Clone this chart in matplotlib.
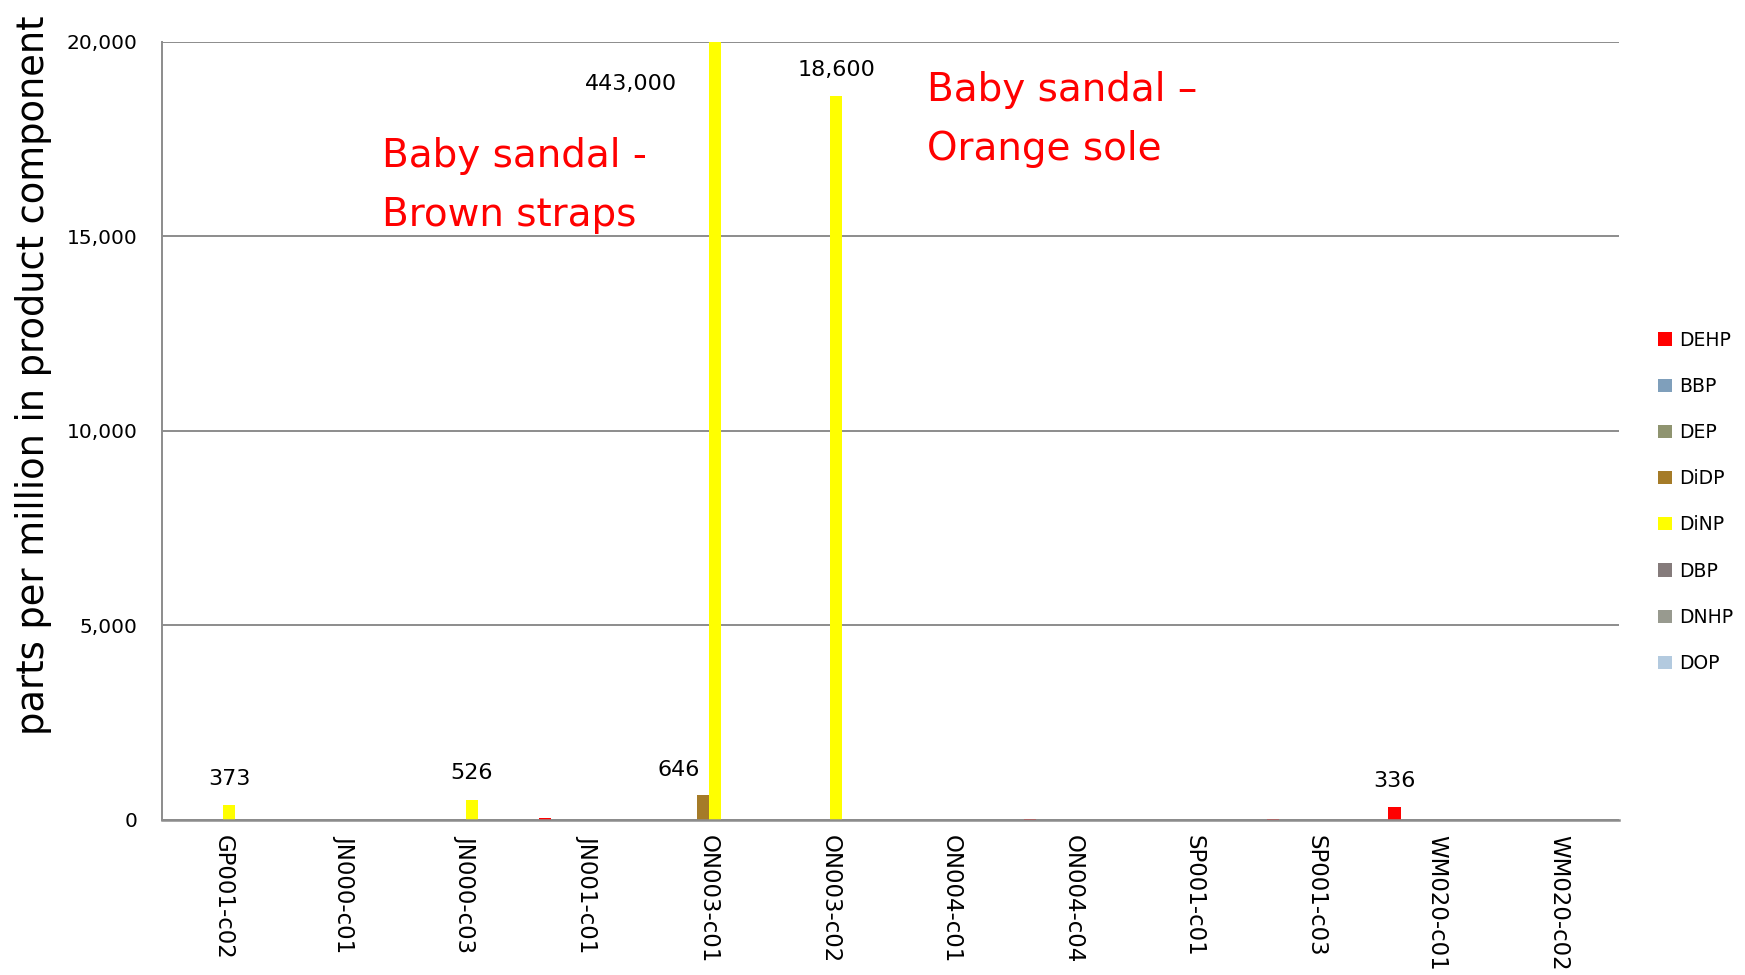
import matplotlib
matplotlib.use("Agg")
import matplotlib.pyplot as plt
import numpy as np

# Muestras (componentes de producto)
muestras = ['GP001-c02', 'JN000-c01', 'JN000-c03', 'JN001-c01', 'ON003-c01', 'ON003-c02',
            'ON004-c01', 'ON004-c04', 'SP001-c01', 'SP001-c03', 'WM020-c01', 'WM020-c02']

ftalatos = ['DEHP', 'BBP', 'DEP', 'DiDP', 'DiNP', 'DBP', 'DNHP', 'DOP']
colores = ['#ff0000', '#7f9fbb', '#8f9470', '#a57b28', '#ffff00', '#857b7b', '#989a8f', '#b3cadf']

# ppm por ftalato, una lista por serie
DEHP = [0, 0, 0, 60, 0, 0, 0, 30, 0, 30, 336, 10]
BBP = [0] * 12
DEP = [0] * 12
DiDP = [0, 0, 0, 0, 646, 0, 0, 0, 0, 0, 0, 0]
DiNP = [373, 0, 526, 0, 443000, 18600, 0, 0, 0, 0, 0, 0]
DBP = [0] * 12
DNHP = [0] * 12
DOP = [0] * 12
series = [DEHP, BBP, DEP, DiDP, DiNP, DBP, DNHP, DOP]

# etiquetas de valor: (serie, muestra, desplazamiento en puntos)
etiquetas = [(4, 0, (0, 19)), (4, 2, (0, 19)), (3, 4, (-17, 18)), (4, 4, (-60, -30)),
             (4, 5, (0, 19)), (0, 10, (0, 19))]

YMAX = 20000

fig = plt.figure(figsize=(17.45, 9.75), dpi=100)
ax = fig.add_axes([0.0931, 0.159, 0.8347, 0.798])

x = np.arange(len(muestras))
ancho = 0.1
barras = []
for i, (nombre, valores) in enumerate(zip(ftalatos, series)):
    b = ax.bar(x + (i - 3.5) * ancho, valores, width=ancho, color=colores[i], label=nombre, zorder=3)
    barras.append(b)

ax.set_xlim(-0.5, len(muestras) - 0.5)
ax.set_ylim(0, YMAX)
ax.set_yticks([0, 5000, 10000, 15000, 20000])
ax.set_yticklabels(['{:,}'.format(v) for v in [0, 5000, 10000, 15000, 20000]], fontsize=14.5)
ax.set_xticks(x)
ax.set_xticklabels(muestras, rotation=270, fontsize=16.5, va='top', ha='center')
ax.tick_params(axis='both', length=0, pad=11)
ax.tick_params(axis='y', pad=18)

ax.grid(axis='y', color='#8c8c8c', linewidth=1.4, zorder=0)
ax.set_axisbelow(True)
for lado in ['top', 'right']:
    ax.spines[lado].set_visible(False)
ax.spines['left'].set_color('#8c8c8c')
ax.spines['left'].set_linewidth(1.4)
ax.spines['bottom'].set_color('#8c8c8c')
ax.spines['bottom'].set_linewidth(1.8)
ax.spines['bottom'].set_zorder(4)

ax.set_ylabel('parts per million in product component', fontsize=26.5)
ax.yaxis.set_label_coords(-0.076, 0.572)

# valores de las barras (las que se salen de escala se cortan en YMAX)
for s, m, desp in etiquetas:
    v = series[s][m]
    ax.annotate('{:,}'.format(v), xy=(x[m] + (s - 3.5) * ancho, min(v, YMAX)),
                xytext=desp, textcoords='offset points', ha='center', va='center',
                fontsize=16, annotation_clip=False)

ax.text(0.151, 0.878, 'Baby sandal -\nBrown straps', transform=ax.transAxes, color='red',
        fontsize=28, va='top', ha='left', linespacing=1.7)
ax.text(0.525, 0.962, 'Baby sandal \u2013\nOrange sole', transform=ax.transAxes, color='red',
        fontsize=28, va='top', ha='left', linespacing=1.7)

ax.legend(handles=barras, loc='center left', bbox_to_anchor=(1.0, 0.409), frameon=False,
          fontsize=13.5, handlelength=0.7, handleheight=0.7, handletextpad=0.4,
          labelspacing=1.45, borderaxespad=1.7)

fig.savefig('out.png', dpi=100)
